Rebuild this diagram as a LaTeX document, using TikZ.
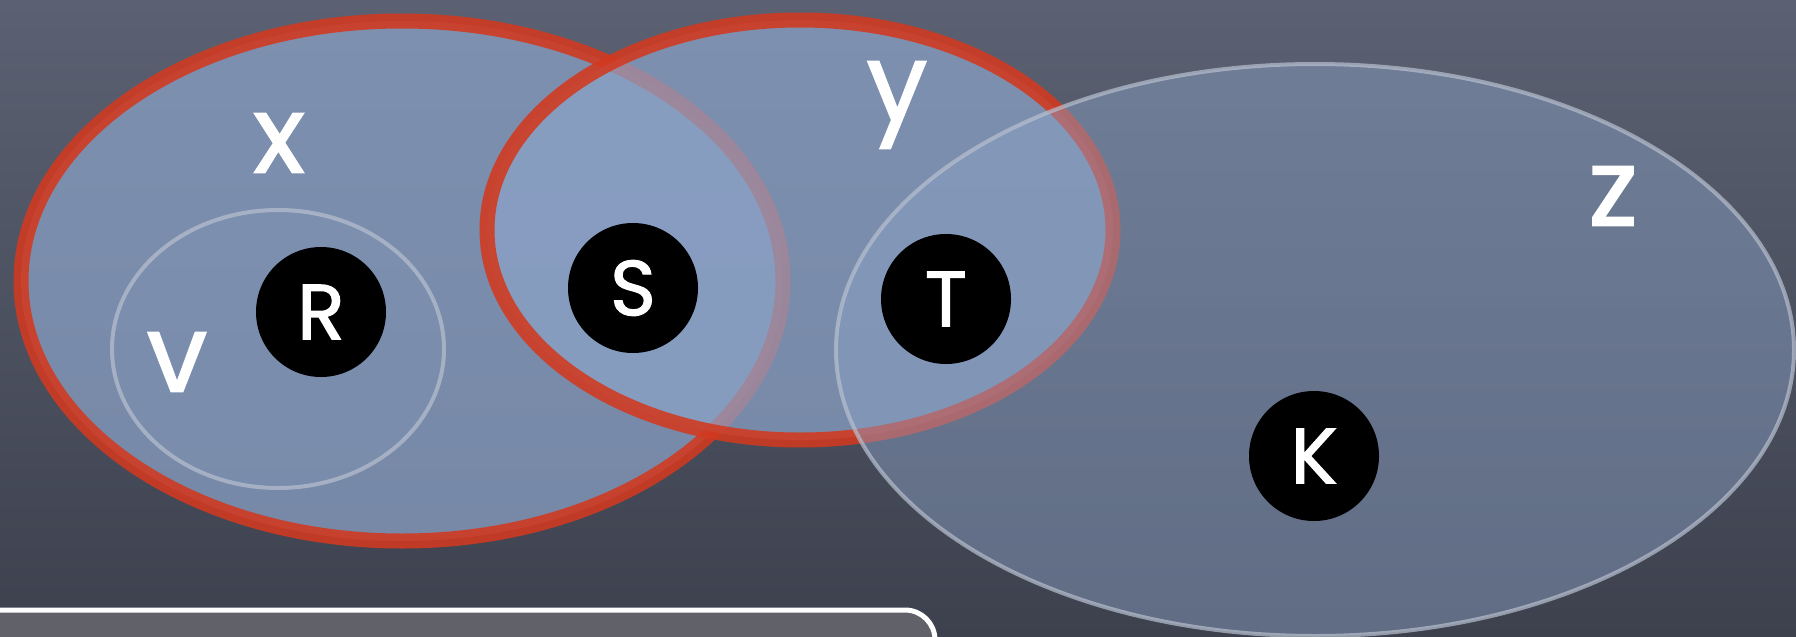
\documentclass[tikz,border=0pt]{standalone}
\usepackage{fontspec}
\newfontfamily\chalk{Poppins}[FakeBold=1.5]
\usetikzlibrary{shapes.geometric}
\definecolor{bgtop}{HTML}{5B6172}
\definecolor{bgbot}{HTML}{3D414E}
\definecolor{setfill}{HTML}{8CA3C8}
\definecolor{setred}{HTML}{D2391F}
\definecolor{setgray}{HTML}{B8C0CF}
\definecolor{boxfill}{HTML}{606169}
\begin{document}
\begin{tikzpicture}[x=1pt,y=-1pt,
  redset/.style={ellipse, draw=setred, line width=15pt, fill=setfill, fill opacity=0.72, draw opacity=0.88, inner sep=0pt},
  grayset/.style={ellipse, draw=setgray, line width=4pt, fill=setfill, fill opacity=0.55, draw opacity=0.7, inner sep=0pt},
  elem/.style={circle, fill=black, text=white, minimum size=130pt, inner sep=0pt, font=\chalk\fontsize{78}{78}\selectfont},
  lbl/.style={text=white, inner sep=0pt, font=\chalk\fontsize{108}{108}\selectfont},
  panel/.style={rectangle, rounded corners=30pt, draw=white, line width=5pt, fill=boxfill, minimum width=1000pt, minimum height=100pt, inner sep=0pt}]
\useasboundingbox (0,0) rectangle (1796,637);
\shade[top color=bgtop, bottom color=bgbot] (0,0) rectangle (1796,637);
% sets
\node[redset, minimum width=762pt, minimum height=520pt] (X) at (402,281) {};
\node[grayset, fill opacity=0.12, minimum width=332pt, minimum height=278pt] (V) at (278,349) {};
\node[redset, minimum width=626pt, minimum height=420pt] (Y) at (800,230) {};
\node[grayset, fill opacity=0.45, minimum width=958pt, minimum height=572pt] (Z) at (1315,350) {};
% labels
\node[lbl] (lx) at (279,143) {x};
\node[lbl] (ly) at (897,105) {y};
\node[lbl] (lz) at (1613,196) {z};
\node[lbl] (lv) at (177,362) {v};
% elements
\node[elem] (R) at (321,312) {R};
\node[elem] (S) at (633,288) {S};
\node[elem] (T) at (946,299) {T};
\node[elem] (K) at (1314,456) {K};
% bottom panel
\node[panel] (box) at (435,660) {};
\end{tikzpicture}
\end{document}
